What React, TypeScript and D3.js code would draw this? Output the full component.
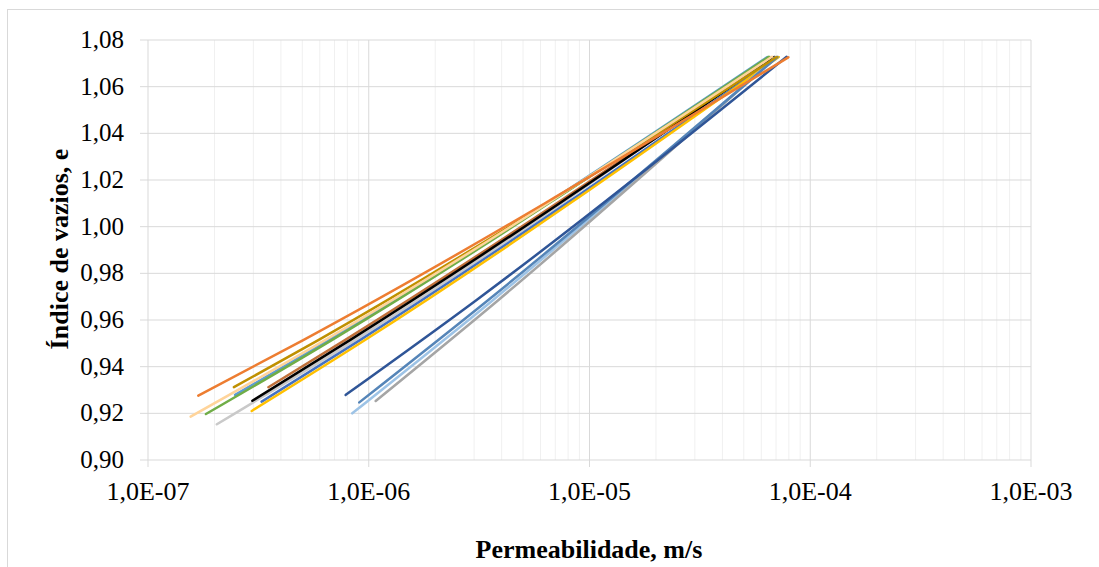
import React from "react";
import * as d3 from "d3";

// Índice de vazios vs permeabilidade (log)
const seriesNames = [
  "S1", "S2", "S3", "S4", "S5", "S6", "S7", "S8", "S9", "S10", "S11", "S12", "S13", "S14",
];
const seriesColors = [
  "#5B9BD5", "#C9C9C9", "#C0703A", "#000000", "#4472C4", "#FFC000", "#9DC3E6",
  "#A5A5A5", "#5585B8", "#2F5597", "#BF9000", "#70AD47", "#FFD49A", "#ED7D31",
];
const seriesK = [
  [2.48e-7, 6.6e-7, 6.4e-5],
  [2.05e-7, 8.66e-7, 6.6e-5],
  [3.51e-7, 7.8e-7, 6.85e-5],
  [2.97e-7, 8.22e-7, 6.9e-5],
  [3.27e-7, 9.13e-7, 7.1e-5],
  [2.95e-7, 9.62e-7, 7.2e-5],
  [8.42e-7, 3.66e-6, 7.0e-5],
  [1.075e-6, 3.87e-6, 7.0e-5],
  [9.06e-7, 3.48e-6, 7.1e-5],
  [7.86e-7, 3.08e-6, 7.82e-5],
  [2.45e-7, 5.91e-7, 7.05e-5],
  [1.83e-7, 6.8e-7, 6.5e-5],
  [1.56e-7, 6.34e-7, 6.71e-5],
  [1.69e-7, 5.05e-7, 7.96e-5],
];
const seriesE = [
  [0.9279, 0.9514, 1.0727],
  [0.9153, 0.9514, 1.0727],
  [0.9312, 0.9514, 1.0727],
  [0.9254, 0.9514, 1.0727],
  [0.925, 0.9514, 1.0727],
  [0.921, 0.9514, 1.0727],
  [0.92, 0.9686, 1.0727],
  [0.9253, 0.9686, 1.0727],
  [0.9247, 0.9686, 1.0727],
  [0.9279, 0.9686, 1.0728],
  [0.9312, 0.9514, 1.0727],
  [0.9197, 0.9514, 1.0728],
  [0.9186, 0.9514, 1.0728],
  [0.9276, 0.9514, 1.0726],
];
const xTicks = [1e-7, 1e-6, 1e-5, 1e-4, 1e-3];
const xTickLabels = ["1,0E-07", "1,0E-06", "1,0E-05", "1,0E-04", "1,0E-03"];
const yTicks = [0.9, 0.92, 0.94, 0.96, 0.98, 1.0, 1.02, 1.04, 1.06, 1.08];

const W = 1099;
const H = 567;
const plot = { left: 148, right: 1031, top: 40, bottom: 460 };
const font = '"Liberation Serif", "Times New Roman", Times, serif';

export default function App() {
  const x = d3.scaleLog().domain([1e-7, 1e-3]).range([plot.left, plot.right]);
  const y = d3.scaleLinear().domain([0.9, 1.08]).range([plot.bottom, plot.top]);

  const minor: number[] = [];
  for (let d = -7; d < -3; d++) {
    for (let m = 2; m <= 9; m++) minor.push(m * Math.pow(10, d));
  }

  const line = d3
    .line<[number, number]>()
    .x((d) => x(d[0]))
    .y((d) => y(d[1]))
    .curve(d3.curveMonotoneX);

  const fmt = (v: number) => v.toFixed(2).replace(".", ",");

  return (
    <svg
      width={W}
      height={H}
      style={{ position: "absolute", left: 0, top: 0, background: "#fff", fontFamily: font }}
    >
      <rect x={7.5} y={9.5} width={1100} height={600} fill="#fff" stroke="#D9D9D9" />

      {/* minor vertical grid */}
      {minor.map((v, i) => (
        <line key={"m" + i} x1={x(v)} x2={x(v)} y1={plot.top} y2={plot.bottom} stroke="#F0F0F0" strokeWidth={1} />
      ))}
      {/* horizontal grid */}
      {yTicks.map((v) => (
        <line key={"h" + v} x1={plot.left - 8} x2={plot.right} y1={y(v)} y2={y(v)} stroke="#D9D9D9" strokeWidth={1} />
      ))}
      {/* major vertical grid */}
      {xTicks.map((v) => (
        <line key={"v" + v} x1={x(v)} x2={x(v)} y1={plot.top} y2={plot.bottom + 7} stroke="#D9D9D9" strokeWidth={1} />
      ))}

      {/* series */}
      {seriesNames.map((name, i) => {
        const pts = seriesK[i].map((k, j) => [k, seriesE[i][j]] as [number, number]);
        return (
          <path
            key={name}
            d={line(pts) || ""}
            fill="none"
            stroke={seriesColors[i]}
            strokeWidth={2.5}
            strokeLinecap="round"
          />
        );
      })}

      {/* y tick labels */}
      {yTicks.map((v) => (
        <text key={"yl" + v} x={124} y={y(v) + 8} textAnchor="end" fontSize={25} fill="#000">
          {fmt(v)}
        </text>
      ))}
      {/* x tick labels */}
      {xTicks.map((v, i) => (
        <text key={"xl" + v} x={x(v)} y={500} textAnchor="middle" fontSize={26} fill="#000">
          {xTickLabels[i]}
        </text>
      ))}

      <text x={589} y={558} textAnchor="middle" fontSize={26} fontWeight="bold" fill="#000">
        Permeabilidade, m/s
      </text>
      <text
        transform={`translate(68, 249) rotate(-90)`}
        textAnchor="middle"
        fontSize={26}
        fontWeight="bold"
        fill="#000"
      >
        Índice de vazios, e
      </text>
    </svg>
  );
}
